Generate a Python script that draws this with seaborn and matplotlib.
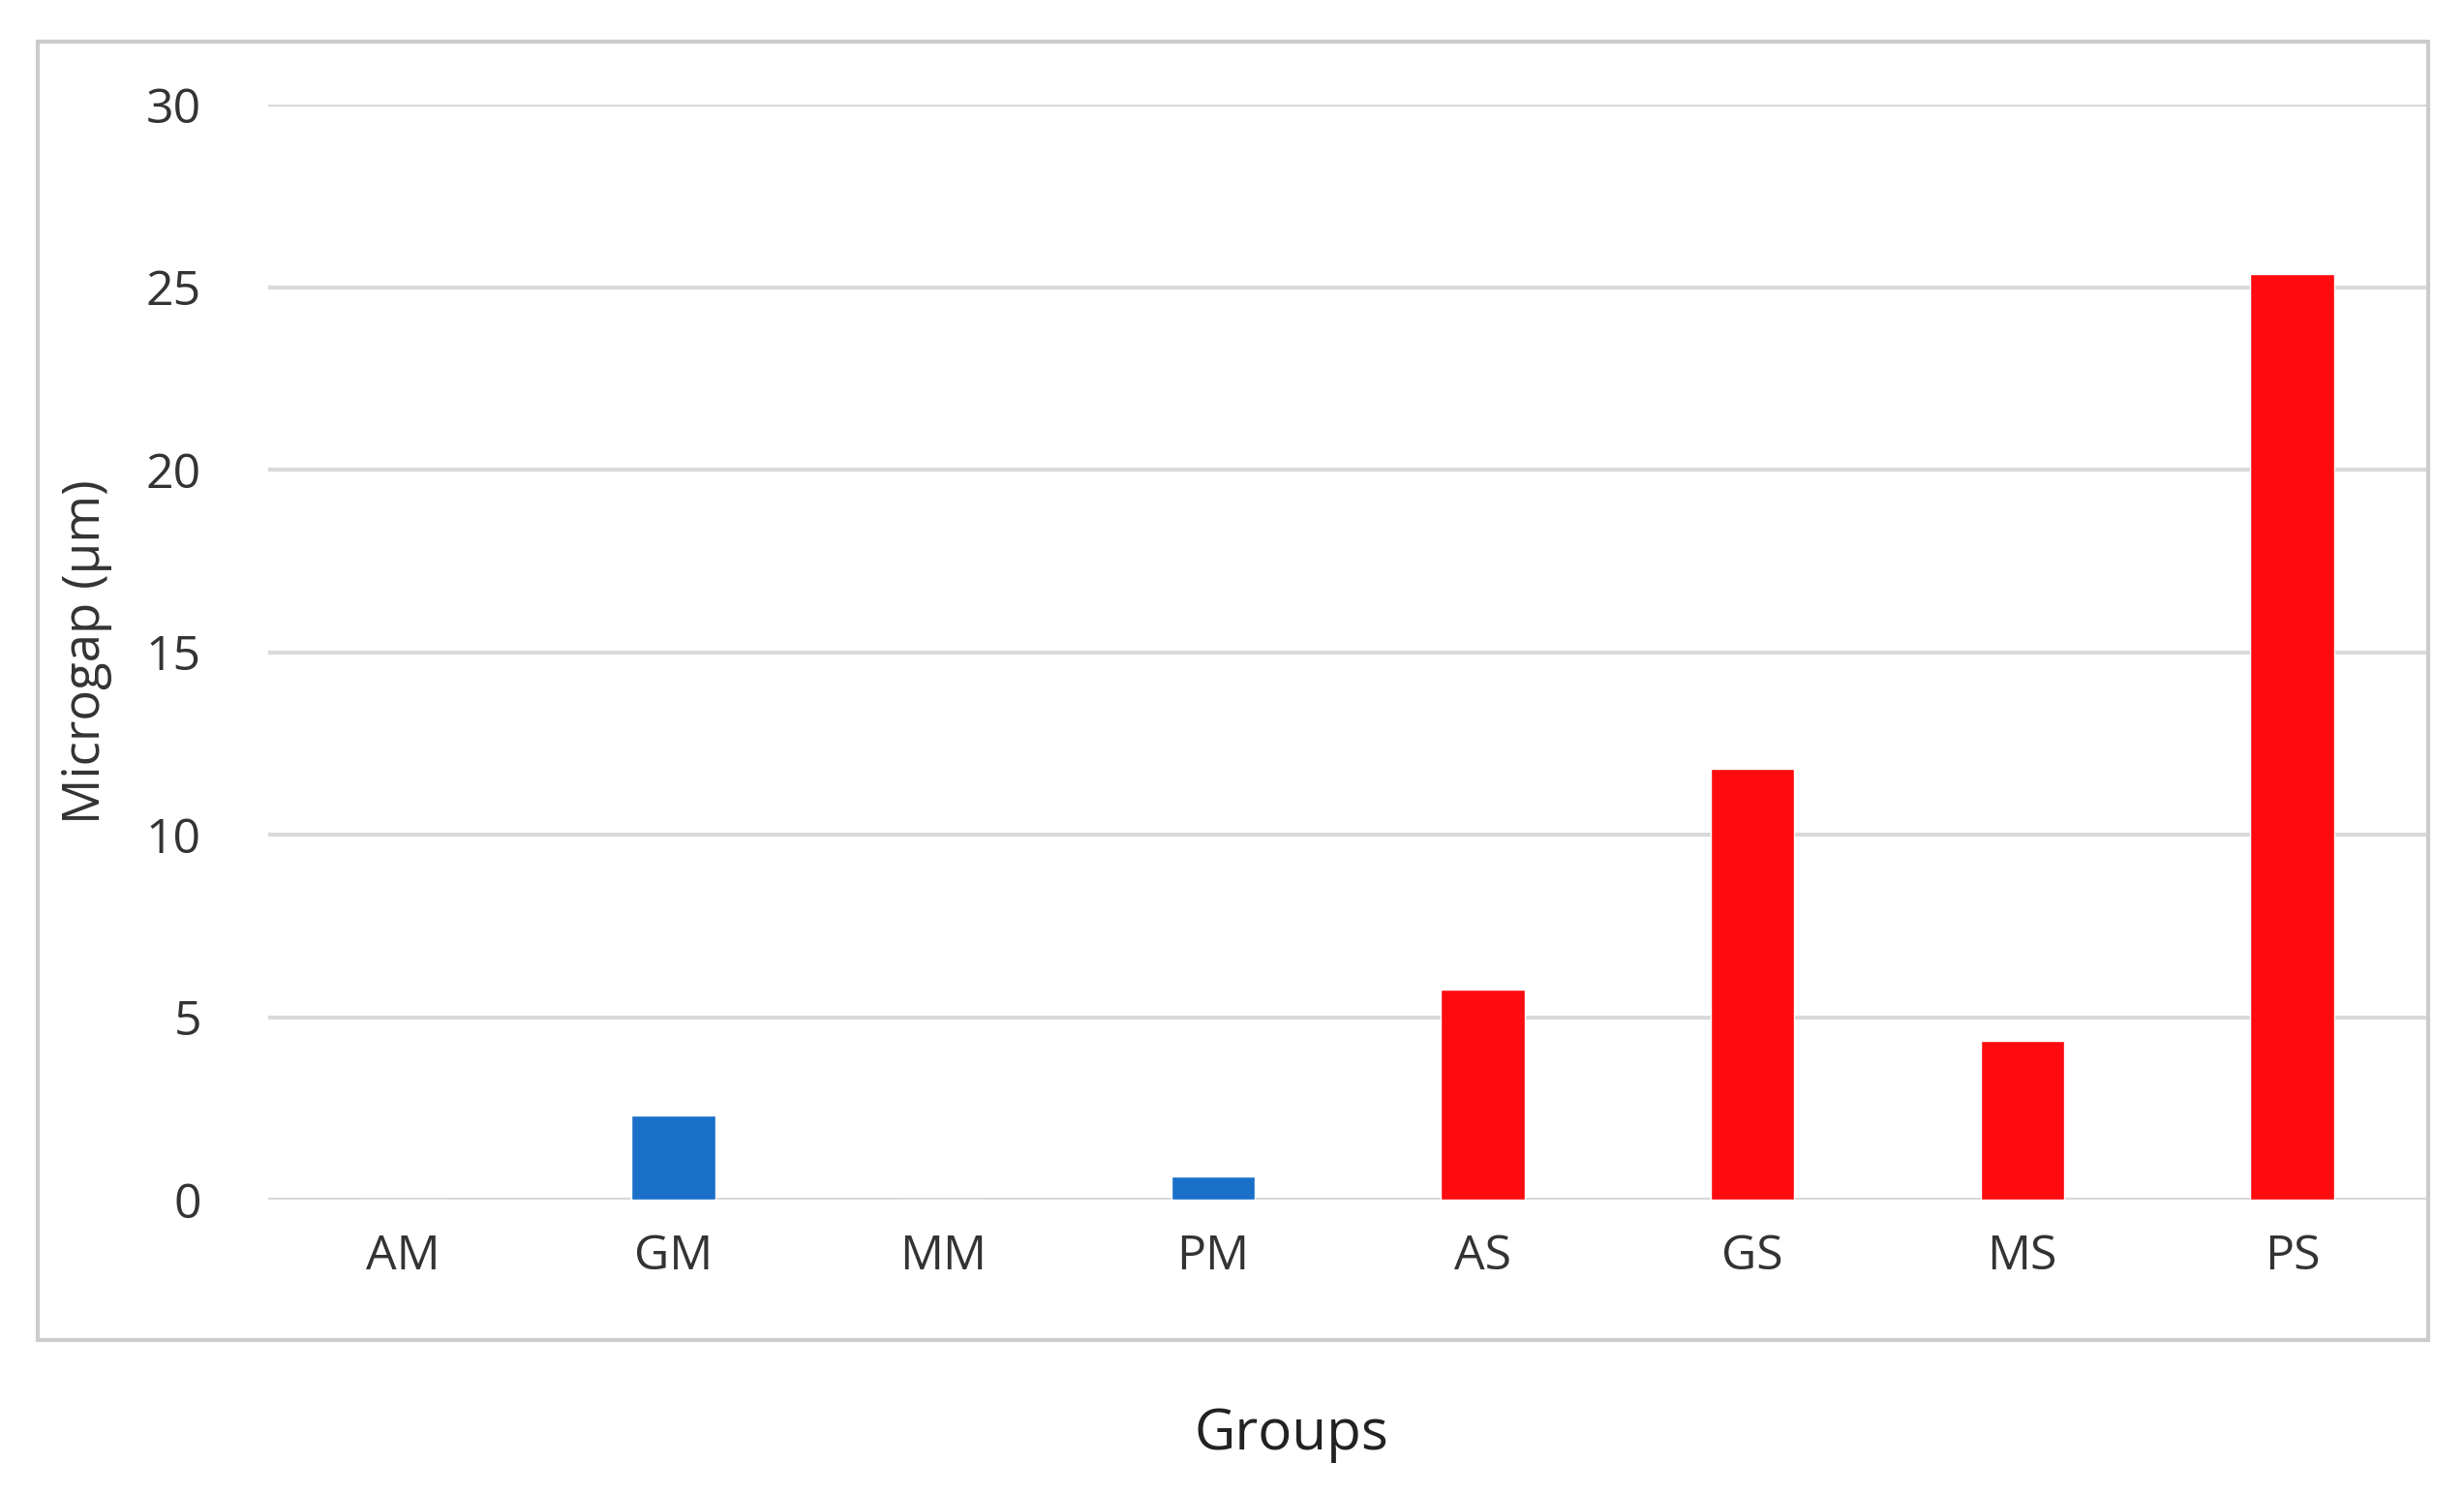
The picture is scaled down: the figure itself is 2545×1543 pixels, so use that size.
import matplotlib
matplotlib.use("Agg")
import matplotlib.pyplot as plt
import seaborn as sns
import pandas as pd
from matplotlib.patches import Rectangle

groups = ["AM", "GM", "MM", "PM", "AS", "GS", "MS", "PS"]
values = [0, 2.3, 0, 0.65, 5.75, 11.8, 4.35, 25.35]
colors = ["#1a6fc9"] * 4 + ["#ff0a0f"] * 4

sns.set_theme(style="white")
plt.rcParams['font.family'] = ['Open Sans', 'DejaVu Sans']

df = pd.DataFrame({"g": groups, "v": values})
fig = plt.figure(figsize=(25.45, 15.43), dpi=100)
ax = fig.add_axes([0.109, 0.197, 0.876, 0.733])
sns.barplot(data=df, x="g", y="v", hue="g", palette=colors, legend=False, width=0.31, ax=ax, saturation=1)
ax.set_ylim(0, 30)
ax.set_yticks([0, 5, 10, 15, 20, 25, 30])
ax.yaxis.grid(True, color="#d9d9d9", linewidth=3)
ax.set_axisbelow(True)
for s in ax.spines.values():
    s.set_visible(False)
ax.tick_params(axis="both", labelsize=36, colors="#333333", length=0)
ax.tick_params(axis="x", pad=25)
ax.tick_params(axis="y", pad=50)
ax.set_xlabel("")
ax.set_ylabel("Microgap (μm)", fontsize=38, color="#333333", labelpad=25)
fig.text(0.524, 0.04, "Groups", fontsize=42, ha="center", va="center", color="#222222")
fig.patches.append(Rectangle((0.0155, 0.103), 0.97, 0.869, transform=fig.transFigure,
                             fill=False, edgecolor="#cccccc", linewidth=3))
fig.savefig("out.png", dpi=100)
